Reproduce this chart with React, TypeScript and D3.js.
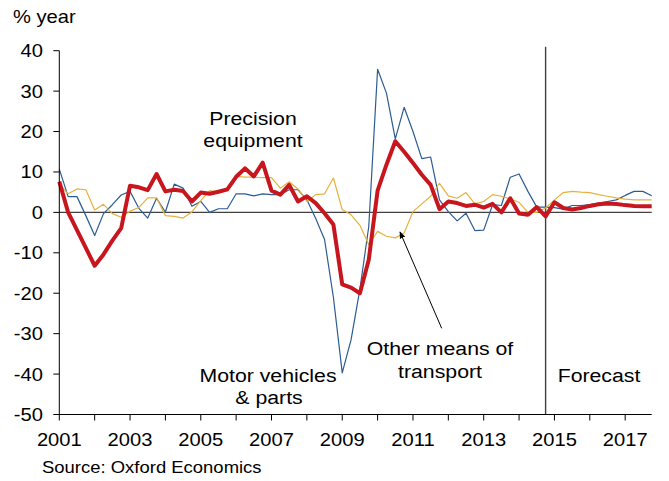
import React from 'react';
import * as d3 from 'd3';

// quarterly, % year, 2001Q1 .. 2017Q4
const firstYear = 2001;
const yearLabels = [2001, 2003, 2005, 2007, 2009, 2011, 2013, 2015, 2017];
const yearTicks = d3.range(2001, 2018);
const yTicks = [40, 30, 20, 10, 0, -10, -20, -30, -40, -50];
const forecastStart = 2014.75;

const total = [
  7.6, 0.0, -4.4, -8.8,
  -13.2, -10.4, -7.0, -3.9,
  6.6, 6.2, 5.5, 9.5,
  5.2, 5.6, 5.3, 2.7,
  4.9, 4.6, 5.1, 5.7,
  8.8, 10.9, 8.9, 12.3,
  5.4, 4.4, 6.8, 2.7,
  4.0, 2.3, -0.2, -3.0,
  -17.8, -18.6, -20.0, -11.7,
  5.4, 11.8, 17.6, 15.0,
  12.2, 9.3, 6.8, 0.8,
  2.7, 2.3, 1.6, 1.9,
  1.2, 2.1, 0.0, 3.5,
  -0.3, -0.6, 1.3, -1.0,
  2.5, 1.1, 0.7, 1.1,
  1.6, 2.0, 2.2, 2.1,
  1.8, 1.6, 1.5, 1.5,
];

const motorVehicles = [
  10.7, 3.9, 3.9, -0.8,
  -5.7, -0.3, 1.9, 4.3,
  5.2, 1.0, -1.4, 3.5,
  0.1, 7.0, 6.0, 1.5,
  2.7, 0.0, 0.9, 0.9,
  4.6, 4.6, 4.1, 4.6,
  4.4, 4.4, 5.6, 5.6,
  3.1, -1.5, -6.7, -21.0,
  -39.7, -31.5, -19.0, -3.5,
  35.4, 29.5, 18.2, 26.0,
  20.0, 13.3, 13.7, 3.1,
  0.2, -2.1, -0.2, -4.5,
  -4.4, 1.9, 1.7, 8.7,
  9.5, 5.2, 1.3, 1.3,
  1.2, 0.8, 1.7, 1.7,
  1.9, 2.3, 2.7, 3.1,
  4.2, 5.2, 5.2, 4.1,
];

const otherTransport = [
  6.9, 4.6, 5.8, 5.6,
  0.6, 2.0, -0.3, -1.2,
  0.3, 1.2, 3.6, 3.6,
  -0.8, -1.0, -1.4, 0.1,
  2.9, 5.4, 5.0, 5.3,
  8.9, 8.7, 8.7, 8.6,
  8.6, 6.0, 7.6, 5.8,
  2.7, 4.4, 4.6, 8.5,
  0.7, -0.6, -3.2, -8.0,
  -4.7, -5.9, -6.3, -5.1,
  0.2, 2.1, 4.0, 7.2,
  4.1, 3.5, 4.9, 2.1,
  2.7, 4.4, 4.0, 3.3,
  2.5, 0.0, 0.0, 1.1,
  3.1, 4.9, 5.2, 5.0,
  4.9, 4.4, 4.0, 3.6,
  3.3, 3.1, 3.1, 3.1,
];

const font = '"Liberation Sans", Arial, sans-serif';
const stretch = 1.12;

function Label({ x, y, children, anchor = 'start', size = 18 }) {
  return (
    <g transform={`translate(${x},${y}) scale(${stretch},1)`}>
      <text textAnchor={anchor} fontSize={size} fontFamily={font} fill="#000">
        {children}
      </text>
    </g>
  );
}

export default function App() {
  const width = 669;
  const height = 481;
  const left = 59.3;
  const right = 651.7;
  const top = 50.7;
  const bottom = 414.5;

  const xScale = d3.scaleLinear()
    .domain([2001, 2017.75])
    .range([left, right]);

  const yScale = d3.scaleLinear()
    .domain([-50, 40])
    .range([bottom, top]);

  const line = d3.line()
    .x((d, i) => xScale(firstYear + i / 4))
    .y(d => yScale(d));

  return (
    <svg width={width} height={height} style={{ position: 'absolute', left: 0, top: 0, background: '#fff' }}>
      <defs>
        <marker id="arrow" viewBox="0 0 10 10" refX="9" refY="5" markerWidth="7" markerHeight="7" orient="auto">
          <path d="M0,1 L10,5 L0,9 z" fill="#000" />
        </marker>
      </defs>

      <Label x={13} y={23}>% year</Label>

      {/* zero line */}
      <line x1={left} x2={right} y1={yScale(0)} y2={yScale(0)} stroke="#404040" strokeWidth={1.2} />

      {/* forecast divider */}
      <line x1={xScale(forecastStart)} x2={xScale(forecastStart)} y1={top - 4} y2={bottom} stroke="#404040" strokeWidth={1.4} />

      <path d={line(motorVehicles)} fill="none" stroke="#2B5C92" strokeWidth={1.2} strokeLinejoin="round" />
      <path d={line(otherTransport)} fill="none" stroke="#E6B13C" strokeWidth={1.2} strokeLinejoin="round" />
      <path d={line(total)} fill="none" stroke="#C8161F" strokeWidth={4} strokeLinejoin="round" />

      {/* y axis */}
      <line x1={left} x2={left} y1={top} y2={bottom} stroke="#000" strokeWidth={1} />
      {yTicks.map(t => (
        <g key={t}>
          <line x1={left - 6} x2={left} y1={yScale(t)} y2={yScale(t)} stroke="#000" />
          <Label x={43} y={yScale(t) + 6.5} anchor="end">{t}</Label>
        </g>
      ))}

      {/* x axis */}
      <line x1={left} x2={right} y1={bottom} y2={bottom} stroke="#000" strokeWidth={1} />
      {yearTicks.map(t => (
        <line key={t} x1={xScale(t)} x2={xScale(t)} y1={bottom} y2={bottom + 6} stroke="#000" />
      ))}
      {yearLabels.map(t => (
        <Label key={t} x={xScale(t)} y={445.5} anchor="middle">{t}</Label>
      ))}

      <Label x={253} y={125} anchor="middle" size={19}>Precision</Label>
      <Label x={253} y={147} anchor="middle" size={19}>equipment</Label>
      <Label x={268} y={382} anchor="middle" size={19}>Motor vehicles</Label>
      <Label x={269} y={404} anchor="middle" size={19}>&amp; parts</Label>
      <Label x={440} y={355} anchor="middle" size={19}>Other means of</Label>
      <Label x={440} y={378} anchor="middle" size={19}>transport</Label>
      <Label x={599} y={382} anchor="middle" size={19}>Forecast</Label>

      <line x1={441.7} y1={328.3} x2={400} y2={232} stroke="#000" strokeWidth={1} markerEnd="url(#arrow)" />

      <Label x={42} y={473} size={16.5}>Source: Oxford Economics</Label>
    </svg>
  );
}
